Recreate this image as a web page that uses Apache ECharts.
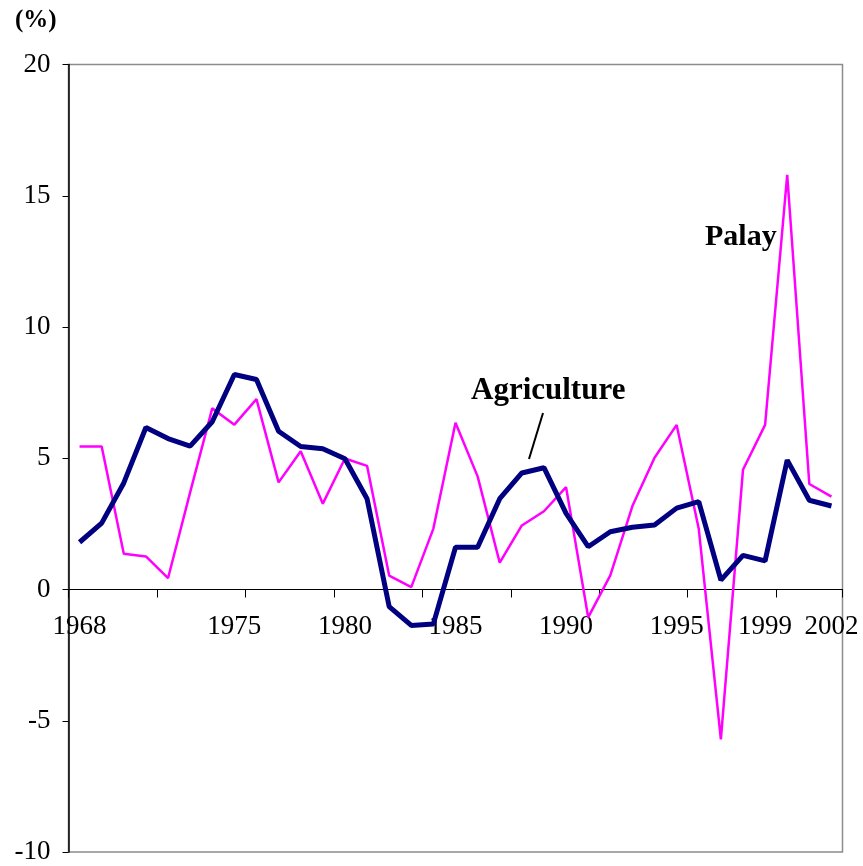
<!DOCTYPE html>
<html>
<head>
<meta charset="utf-8">
<script src="https://cdn.jsdelivr.net/npm/echarts@6/dist/echarts.min.js"></script>
<style>
	html, body { margin: 0; padding: 0; background: #fff; }
	#chart { width: 863px; height: 866px; }
</style>
</head>
<body>
<div id="chart"></div>
<script>
// 年份
var years = ['1968', '1969', '1970', '1971', '1972', '1973', '1974', '1975', '1976', '1977',
	'1978', '1979', '1980', '1981', '1982', '1983', '1984', '1985', '1986', '1987',
	'1988', '1989', '1990', '1991', '1992', '1993', '1994', '1995', '1996', '1997',
	'1998', '1999', '2000', '2001', '2002'];
// 显示的年份标签
var shownYears = ['1968', '1975', '1980', '1985', '1990', '1995', '1999', '2002'];
// Agriculture 增长率 (%)
var agriculture = [1.80, 2.53, 4.06, 6.17, 5.75, 5.46, 6.39, 8.19, 8.00, 6.03,
	5.45, 5.36, 4.98, 3.46, -0.65, -1.37, -1.31, 1.61, 1.61, 3.46,
	4.44, 4.64, 2.90, 1.63, 2.20, 2.37, 2.46, 3.10, 3.35, 0.36,
	1.30, 1.09, 4.93, 3.40, 3.18];
// Palay 增长率 (%)
var palay = [5.45, 5.45, 1.36, 1.26, 0.43, 3.70, 6.90, 6.28, 7.25, 4.08,
	5.27, 3.27, 4.99, 4.71, 0.53, 0.09, 2.32, 6.35, 4.31, 1.02,
	2.44, 2.98, 3.90, -1.06, 0.54, 3.18, 5.02, 6.27, 2.31, -5.71,
	4.56, 6.27, 15.80, 4.02, 3.54];

var serif = '"Liberation Serif", "Times New Roman", serif';

var myChart = echarts.init(document.getElementById('chart'));
var option = {
	animation: false,
	backgroundColor: '#fff',
	grid: {
		left: 68.5,
		right: 20.5,
		top: 64.5,
		bottom: 14,
		containLabel: false,
		outerBoundsMode: 'none',
		show: true,
		borderColor: '#8c8c8c',
		borderWidth: 1.5
	},
	xAxis: {
		type: 'category',
		data: years,
		boundaryGap: true,
		position: 'bottom',
		// x轴放在0刻度处
		offset: -262.5,
		axisLine: {
			onZero: false,
			lineStyle: { color: '#000', width: 1 }
		},
		axisTick: {
			show: true,
			interval: 3,
			length: 8,
			lineStyle: { color: '#000' }
		},
		axisLabel: {
			interval: function(idx, val) {
				return shownYears.indexOf(val) > -1;
			},
			margin: 24,
			color: '#000',
			fontFamily: serif,
			fontSize: 27
		},
		splitLine: { show: false }
	},
	yAxis: {
		type: 'value',
		min: -10,
		max: 20,
		interval: 5,
		axisLine: {
			show: true,
			lineStyle: { color: '#000', width: 1.5 }
		},
		axisTick: {
			show: true,
			length: 6,
			lineStyle: { color: '#000' }
		},
		axisLabel: {
			margin: 18,
			color: '#000',
			fontFamily: serif,
			fontSize: 27
		},
		splitLine: { show: false }
	},
	series: [{
		name: 'Palay',
		type: 'line',
		data: palay,
		showSymbol: false,
		lineStyle: { color: '#ff00ff', width: 2.5 },
		z: 2
	}, {
		name: 'Agriculture',
		type: 'line',
		data: agriculture,
		showSymbol: false,
		lineStyle: { color: '#000080', width: 5 },
		z: 3
	}],
	graphic: [{
		type: 'text',
		left: 15,
		top: 8,
		style: { text: '(%)', font: 'bold 25px ' + serif, fill: '#000' }
	}, {
		type: 'text',
		left: 705,
		top: 222,
		style: { text: 'Palay', font: 'bold 30px ' + serif, fill: '#000' }
	}, {
		type: 'text',
		left: 471,
		top: 375,
		style: { text: 'Agriculture', font: 'bold 31px ' + serif, fill: '#000' }
	}, {
		type: 'line',
		shape: { x1: 543, y1: 413, x2: 529, y2: 459 },
		style: { stroke: '#000', lineWidth: 2 }
	}]
};
myChart.setOption(option);
window.addEventListener("resize", function() {
	myChart.resize();
});
</script>
</body>
</html>
